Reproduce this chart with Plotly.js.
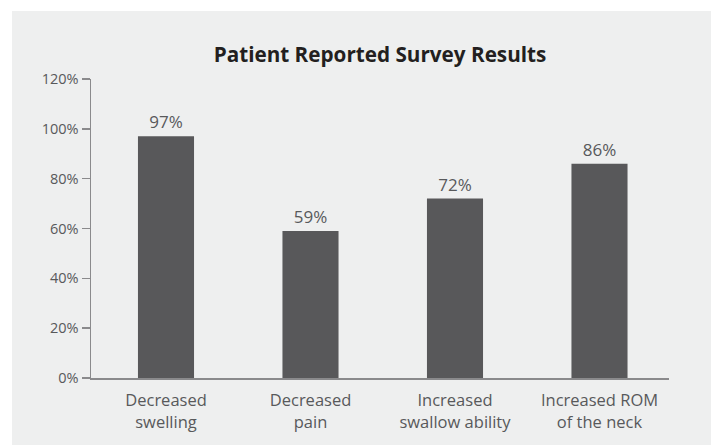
<!DOCTYPE html>
<html>
<head>
<meta charset="utf-8">
<script src="https://cdn.plot.ly/plotly-3.0.1.min.js"></script>
<style>html,body{margin:0;padding:0;background:#fff;}#chart{width:711px;height:445px;}</style>
</head>
<body>
<div id="chart"></div>
<script>
var categories = ["Decreased swelling", "Decreased pain", "Increased swallow ability", "Increased ROM of the neck"];
var tickLabels = ["Decreased<br>swelling", "Decreased<br>pain", "Increased<br>swallow ability", "Increased ROM<br>of the neck"];
var values = [97, 59, 72, 86];
var yTickVals = [0, 20, 40, 60, 80, 100, 120];
var yTickText = ["0%", "20%", "40%", "60%", "80%", "100%", "120%"];

var FONT = "'Open Sans', Lato, sans-serif";
var idx = categories.map(function(_, i){ return i; });

var trace = {
  type: 'bar',
  x: idx,
  y: values,
  width: 0.388,
  marker: {color: '#58585a'},
  text: values.map(function(v){ return v + '%'; }),
  textposition: 'outside',
  cliponaxis: false,
  textfont: {family: FONT, size: 17, color: '#58595b'},
  hoverinfo: 'skip'
};

var layout = {
  width: 711, height: 445,
  margin: {l: 91, r: 42, t: 79, b: 67},
  paper_bgcolor: '#ffffff',
  plot_bgcolor: 'rgba(0,0,0,0)',
  showlegend: false,
  font: {family: FONT, color: '#58595b'},
  title: {
    text: '<b>Patient Reported Survey Results</b>',
    font: {family: FONT, size: 20.7, color: '#231f20'},
    x: 0.5, xref: 'paper', xanchor: 'center',
    y: 1 - 55/445, yref: 'container', yanchor: 'middle'
  },
  xaxis: {
    range: [-0.519, 3.481],
    tickmode: 'array', tickvals: idx, ticktext: tickLabels,
    ticks: '', showline: true, linecolor: '#8a8a8c', linewidth: 1.5,
    showgrid: false, zeroline: false,
    ticklabelstandoff: 7,
    tickfont: {family: FONT, size: 16.5, color: '#58595b'}
  },
  yaxis: {
    range: [0, 120],
    tickmode: 'array', tickvals: yTickVals, ticktext: yTickText,
    ticks: 'outside', ticklen: 8, tickcolor: '#8a8a8c', tickwidth: 1.5,
    showline: true, linecolor: '#8a8a8c', linewidth: 1.5,
    showgrid: false, zeroline: false,
    tickfont: {family: FONT, size: 14.5, color: '#58595b'}
  },
  shapes: [{
    type: 'rect', xref: 'paper', yref: 'paper', layer: 'below',
    x0: (12-91)/578, x1: (711-91)/578, y0: (378-445)/299, y1: (378-11)/299,
    fillcolor: '#eeefef', line: {width: 0}
  }]
};

Plotly.newPlot('chart', [trace], layout, {displayModeBar: false, staticPlot: true});
</script>
</body>
</html>
